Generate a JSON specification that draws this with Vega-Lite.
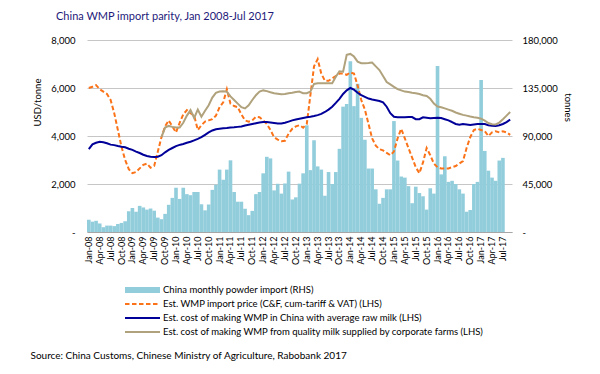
{
"$schema": "https://vega.github.io/schema/vega-lite/v6.json",
"width": 425, "height": 192,
"autosize": {"type": "none"},
"padding": {"left": 87, "top": 40, "right": 88, "bottom": 142},
"background": "white",
"config": {"view": {"stroke": null}, "font": "Lato", "axis": {"labelFont": "Lato", "titleFont": "Lato"}},
"title": {"text": "China WMP import parity, Jan 2008-Jul 2017", "anchor": "start", "frame": "group", "dx": -31, "dy": 10, "offset": 14, "baseline": "alphabetic", "fontSize": 11, "fontWeight": "normal", "color": "#1e1a7a", "font": "Lato"},
"data": {"values": [
{"m":"Jan-08","imp":11500,"wmp":6000,"avg":3450},
{"m":"Feb-08","imp":9700,"wmp":6050,"avg":3650},
{"m":"Mar-08","imp":10500,"wmp":6120,"avg":3720},
{"m":"Apr-08","imp":8000,"wmp":5950,"avg":3760},
{"m":"May-08","imp":4500,"wmp":5850,"avg":3740},
{"m":"Jun-08","imp":6000,"wmp":5750,"avg":3700},
{"m":"Jul-08","imp":6000,"wmp":5500,"avg":3640},
{"m":"Aug-08","imp":5500,"wmp":4950,"avg":3620},
{"m":"Sep-08","imp":7500,"wmp":4250,"avg":3580},
{"m":"Oct-08","imp":8500,"wmp":3550,"avg":3550},
{"m":"Nov-08","imp":10000,"wmp":3000,"avg":3530},
{"m":"Dec-08","imp":19500,"wmp":2620,"avg":3470},
{"m":"Jan-09","imp":22500,"wmp":2450,"avg":3420},
{"m":"Feb-09","imp":19000,"wmp":2500,"avg":3350},
{"m":"Mar-09","imp":24500,"wmp":2650,"avg":3290},
{"m":"Apr-09","imp":23000,"wmp":2800,"avg":3220},
{"m":"May-09","imp":21000,"wmp":2850,"avg":3170},
{"m":"Jun-09","imp":22000,"wmp":2680,"avg":3140},
{"m":"Jul-09","imp":20000,"wmp":2760,"avg":3130},
{"m":"Aug-09","imp":13500,"wmp":3350,"avg":3140},
{"m":"Sep-09","imp":12000,"wmp":3950,"avg":3200,"corp":3950},
{"m":"Oct-09","imp":17000,"wmp":4400,"avg":3320,"corp":4350},
{"m":"Nov-09","imp":25500,"wmp":4650,"avg":3420,"corp":4420},
{"m":"Dec-09","imp":32000,"wmp":4400,"avg":3500,"corp":4380},
{"m":"Jan-10","imp":41500,"wmp":4150,"avg":3580,"corp":4350},
{"m":"Feb-10","imp":31000,"wmp":4550,"avg":3630,"corp":4350},
{"m":"Mar-10","imp":41500,"wmp":4900,"avg":3670,"corp":4550},
{"m":"Apr-10","imp":35500,"wmp":5080,"avg":3720,"corp":4850},
{"m":"May-10","imp":34500,"wmp":4950,"avg":3760,"corp":5080},
{"m":"Jun-10","imp":37500,"wmp":4850,"avg":3820,"corp":4750},
{"m":"Jul-10","imp":37500,"wmp":4250,"avg":3880,"corp":5100},
{"m":"Aug-10","imp":26000,"wmp":4450,"avg":3950,"corp":4800},
{"m":"Sep-10","imp":20300,"wmp":4600,"avg":4050,"corp":5050},
{"m":"Oct-10","imp":25800,"wmp":4650,"avg":4150,"corp":5280},
{"m":"Nov-10","imp":39500,"wmp":4700,"avg":4230,"corp":5600},
{"m":"Dec-10","imp":44300,"wmp":4850,"avg":4280,"corp":5800},
{"m":"Jan-11","imp":58500,"wmp":5200,"avg":4300,"corp":5850},
{"m":"Feb-11","imp":49000,"wmp":5400,"avg":4320,"corp":5860},
{"m":"Mar-11","imp":58500,"wmp":5950,"avg":4330,"corp":5850},
{"m":"Apr-11","imp":67200,"wmp":5350,"avg":4350,"corp":5650},
{"m":"May-11","imp":37500,"wmp":5250,"avg":4360,"corp":5500},
{"m":"Jun-11","imp":28400,"wmp":5200,"avg":4380,"corp":5350},
{"m":"Jul-11","imp":28400,"wmp":4900,"avg":4400,"corp":5200},
{"m":"Aug-11","imp":21800,"wmp":4650,"avg":4440,"corp":5150},
{"m":"Sep-11","imp":15800,"wmp":4600,"avg":4470,"corp":5280},
{"m":"Oct-11","imp":19800,"wmp":4650,"avg":4500,"corp":5500},
{"m":"Nov-11","imp":35500,"wmp":4800,"avg":4530,"corp":5700},
{"m":"Dec-11","imp":37500,"wmp":4780,"avg":4560,"corp":5850},
{"m":"Jan-12","imp":55000,"wmp":4650,"avg":4580,"corp":5900},
{"m":"Feb-12","imp":70500,"wmp":4500,"avg":4580,"corp":5870},
{"m":"Mar-12","imp":69000,"wmp":4250,"avg":4560,"corp":5820},
{"m":"Apr-12","imp":39000,"wmp":3950,"avg":4540,"corp":5780},
{"m":"May-12","imp":45200,"wmp":3850,"avg":4520,"corp":5760},
{"m":"Jun-12","imp":36000,"wmp":3780,"avg":4520,"corp":5740},
{"m":"Jul-12","imp":45500,"wmp":3800,"avg":4550,"corp":5750},
{"m":"Aug-12","imp":56600,"wmp":4100,"avg":4600,"corp":5780},
{"m":"Sep-12","imp":30500,"wmp":4300,"avg":4650,"corp":5800},
{"m":"Oct-12","imp":32500,"wmp":4400,"avg":4690,"corp":5830},
{"m":"Nov-12","imp":45300,"wmp":4450,"avg":4720,"corp":5850},
{"m":"Dec-12","imp":55000,"wmp":4350,"avg":4750,"corp":5780},
{"m":"Jan-13","imp":100000,"wmp":4500,"avg":4780,"corp":5780},
{"m":"Feb-13","imp":58000,"wmp":5700,"avg":4800,"corp":5850},
{"m":"Mar-13","imp":86000,"wmp":6900,"avg":4830,"corp":6170},
{"m":"Apr-13","imp":61500,"wmp":7200,"avg":4870,"corp":6200},
{"m":"May-13","imp":58500,"wmp":6600,"avg":4920,"corp":6200},
{"m":"Jun-13","imp":34000,"wmp":6300,"avg":5000,"corp":6200},
{"m":"Jul-13","imp":56200,"wmp":6300,"avg":5100,"corp":6200},
{"m":"Aug-13","imp":45000,"wmp":6400,"avg":5220,"corp":6200},
{"m":"Sep-13","imp":56200,"wmp":6500,"avg":5380,"corp":6470},
{"m":"Oct-13","imp":78000,"wmp":6600,"avg":5550,"corp":6700},
{"m":"Nov-13","imp":117500,"wmp":6600,"avg":5750,"corp":6680},
{"m":"Dec-13","imp":120000,"wmp":6550,"avg":5900,"corp":7380},
{"m":"Jan-14","imp":160000,"wmp":6650,"avg":6000,"corp":7420},
{"m":"Feb-14","imp":118000,"wmp":6600,"avg":5930,"corp":7310},
{"m":"Mar-14","imp":139000,"wmp":6100,"avg":5800,"corp":7100},
{"m":"Apr-14","imp":107000,"wmp":5500,"avg":5700,"corp":7030},
{"m":"May-14","imp":86500,"wmp":5100,"avg":5630,"corp":7030},
{"m":"Jun-14","imp":59500,"wmp":4500,"avg":5560,"corp":7040},
{"m":"Jul-14","imp":59500,"wmp":3900,"avg":5520,"corp":7060},
{"m":"Aug-14","imp":40000,"wmp":3600,"avg":5490,"corp":6900},
{"m":"Sep-14","imp":26500,"wmp":3450,"avg":5460,"corp":6750},
{"m":"Oct-14","imp":32000,"wmp":3400,"avg":5400,"corp":6500},
{"m":"Nov-14","imp":40000,"wmp":3300,"avg":5220,"corp":6250},
{"m":"Dec-14","imp":40000,"wmp":3200,"avg":4950,"corp":6150},
{"m":"Jan-15","imp":104000,"wmp":3350,"avg":4800,"corp":6050},
{"m":"Feb-15","imp":67000,"wmp":3900,"avg":4780,"corp":5950},
{"m":"Mar-15","imp":52000,"wmp":4300,"avg":4780,"corp":5900},
{"m":"Apr-15","imp":51000,"wmp":3900,"avg":4780,"corp":5850},
{"m":"May-15","imp":43000,"wmp":3500,"avg":4790,"corp":5830},
{"m":"Jun-15","imp":27000,"wmp":3100,"avg":4790,"corp":5800},
{"m":"Jul-15","imp":42500,"wmp":2700,"avg":4700,"corp":5780},
{"m":"Aug-15","imp":36500,"wmp":2450,"avg":4700,"corp":5750},
{"m":"Sep-15","imp":33500,"wmp":2900,"avg":4780,"corp":5700},
{"m":"Oct-15","imp":21000,"wmp":3500,"avg":4760,"corp":5670},
{"m":"Nov-15","imp":41000,"wmp":3200,"avg":4740,"corp":5550},
{"m":"Dec-15","imp":36000,"wmp":2850,"avg":4750,"corp":5350},
{"m":"Jan-16","imp":155600,"wmp":2700,"avg":4760,"corp":5230},
{"m":"Feb-16","imp":54000,"wmp":2650,"avg":4750,"corp":5200},
{"m":"Mar-16","imp":71000,"wmp":2650,"avg":4700,"corp":5150},
{"m":"Apr-16","imp":47000,"wmp":2650,"avg":4650,"corp":5100},
{"m":"May-16","imp":48000,"wmp":2700,"avg":4580,"corp":5050},
{"m":"Jun-16","imp":45000,"wmp":2750,"avg":4500,"corp":4980},
{"m":"Jul-16","imp":40000,"wmp":2850,"avg":4470,"corp":4930},
{"m":"Aug-16","imp":36000,"wmp":2950,"avg":4500,"corp":4880},
{"m":"Sep-16","imp":19000,"wmp":3500,"avg":4480,"corp":4850},
{"m":"Oct-16","imp":20600,"wmp":3950,"avg":4460,"corp":4810},
{"m":"Nov-16","imp":45000,"wmp":4250,"avg":4480,"corp":4780},
{"m":"Dec-16","imp":47000,"wmp":4300,"avg":4500,"corp":4760},
{"m":"Jan-17","imp":142500,"wmp":4250,"avg":4500,"corp":4720},
{"m":"Feb-17","imp":76000,"wmp":4200,"avg":4500,"corp":4640},
{"m":"Mar-17","imp":57500,"wmp":4000,"avg":4450,"corp":4540},
{"m":"Apr-17","imp":51000,"wmp":4150,"avg":4430,"corp":4490},
{"m":"May-17","imp":48000,"wmp":4200,"avg":4420,"corp":4480},
{"m":"Jun-17","imp":67000,"wmp":4150,"avg":4450,"corp":4560},
{"m":"Jul-17","imp":69500,"wmp":4200,"avg":4500,"corp":4700},
{"m":"Aug-17","wmp":4150,"avg":4580,"corp":4850},
{"m":"Sep-17","wmp":4050,"avg":4680,"corp":5000}
]},
"encoding": {
 "x": {"field": "m", "type": "nominal", "sort": null,
  "scale": {"paddingInner": 0, "paddingOuter": 0, "domain": ["Jan-08","Feb-08","Mar-08","Apr-08","May-08","Jun-08","Jul-08","Aug-08","Sep-08","Oct-08","Nov-08","Dec-08","Jan-09","Feb-09","Mar-09","Apr-09","May-09","Jun-09","Jul-09","Aug-09","Sep-09","Oct-09","Nov-09","Dec-09","Jan-10","Feb-10","Mar-10","Apr-10","May-10","Jun-10","Jul-10","Aug-10","Sep-10","Oct-10","Nov-10","Dec-10","Jan-11","Feb-11","Mar-11","Apr-11","May-11","Jun-11","Jul-11","Aug-11","Sep-11","Oct-11","Nov-11","Dec-11","Jan-12","Feb-12","Mar-12","Apr-12","May-12","Jun-12","Jul-12","Aug-12","Sep-12","Oct-12","Nov-12","Dec-12","Jan-13","Feb-13","Mar-13","Apr-13","May-13","Jun-13","Jul-13","Aug-13","Sep-13","Oct-13","Nov-13","Dec-13","Jan-14","Feb-14","Mar-14","Apr-14","May-14","Jun-14","Jul-14","Aug-14","Sep-14","Oct-14","Nov-14","Dec-14","Jan-15","Feb-15","Mar-15","Apr-15","May-15","Jun-15","Jul-15","Aug-15","Sep-15","Oct-15","Nov-15","Dec-15","Jan-16","Feb-16","Mar-16","Apr-16","May-16","Jun-16","Jul-16","Aug-16","Sep-16","Oct-16","Nov-16","Dec-16","Jan-17","Feb-17","Mar-17","Apr-17","May-17","Jun-17","Jul-17","Aug-17","Sep-17"]},
  "axis": {"orient": "bottom", "values": ["Jan-08","Apr-08","Jul-08","Oct-08","Jan-09","Apr-09","Jul-09","Oct-09","Jan-10","Apr-10","Jul-10","Oct-10","Jan-11","Apr-11","Jul-11","Oct-11","Jan-12","Apr-12","Jul-12","Oct-12","Jan-13","Apr-13","Jul-13","Oct-13","Jan-14","Apr-14","Jul-14","Oct-14","Jan-15","Apr-15","Jul-15","Oct-15","Jan-16","Apr-16","Jul-16","Oct-16","Jan-17","Apr-17","Jul-17"],
   "labelAngle": 270, "labelFontSize": 9, "labelColor": "#000000", "labelPadding": 4, "labelOverlap": false, "ticks": false, "domain": true, "domainColor": "#a6a6a6", "grid": false,
   "title": "Source: China Customs, Chinese Ministry of Agriculture, Rabobank 2017", "titleX": -57, "titleY": 123, "titleAlign": "left", "titleAnchor": "start", "titleBaseline": "middle", "titleFontSize": 10, "titleFontWeight": "normal", "titleColor": "#000000"}}
},
"layer": [
 {"mark": {"type": "bar"},
  "encoding": {
   "y": {"field": "imp", "type": "quantitative", "scale": {"domain": [0, 180000]},
    "axis": {"orient": "right", "values": [0, 45000, 90000, 135000, 180000], "labelExpr": "datum.value == 0 ? '-' : format(datum.value, ',')", "grid": false, "domain": false, "ticks": false, "labelPadding": 10, "labelFontSize": 9.5, "labelColor": "#000000",
     "title": "tonnes", "titleAngle": 90, "titleX": 55, "titleY": 67, "titleFontSize": 9.5, "titleFontWeight": "normal", "titleColor": "#000000", "titleAlign": "center", "titleBaseline": "middle"}},
   "color": {"datum": "imp", "type": "nominal", "title": null,
    "scale": {"domain": ["imp", "wmp", "avg", "corp"], "range": ["#92cddc", "#fb7318", "#000099", "#b0a27c"]},
    "legend": {"orient": "none", "legendX": 38, "legendY": 243, "direction": "vertical", "title": null, "symbolType": "stroke", "symbolSize": 1225, "symbolStrokeWidth": 2, "labelFontSize": 9.5, "labelFont": "Lato", "labelColor": "#000000", "labelOffset": 3, "labelLimit": 500, "rowPadding": 2, "padding": 0,
     "labelExpr": "datum.label == 'imp' ? 'China monthly powder import (RHS)' : datum.label == 'wmp' ? 'Est. WMP import price (C&F, cum-tariff & VAT) (LHS)' : datum.label == 'avg' ? 'Est. cost of making WMP in China with average raw milk (LHS)' : 'Est. cost of making WMP from quality milk supplied by corporate farms (LHS)'",
     "encode": {
      "symbols": {"update": {"x": {"value": 17.5}, "y": {"value": 7}, "size": {"value": 1225},
        "shape": {"signal": "datum.value == 'imp' ? 'M-1,-0.17H1V0.17H-1Z' : 'stroke'"},
        "strokeWidth": {"signal": "datum.value == 'imp' ? 0 : 2"},
        "strokeDash": {"signal": "datum.value == 'wmp' ? [4.5, 2.5] : [100, 0]"},
        "stroke": {"signal": "datum.value == 'imp' ? 'transparent' : scale('color', datum.value)"},
        "fill": {"signal": "datum.value == 'imp' ? scale('color', datum.value) : 'transparent'"},
        "opacity": {"value": 1}}},
      "labels": {"update": {"x": {"value": 38}, "y": {"value": 7}, "baseline": {"value": "middle"}}}}}}
  }},
 {"transform": [{"fold": ["wmp", "avg", "corp"], "as": ["s", "v"]}],
  "mark": {"type": "line", "strokeWidth": 2},
  "encoding": {
   "y": {"field": "v", "type": "quantitative", "scale": {"domain": [0, 8000]},
    "axis": {"orient": "left", "values": [0, 2000, 4000, 6000, 8000], "labelExpr": "datum.value == 0 ? '-' : format(datum.value, ',')", "grid": true, "gridColor": "#c6c6c6", "domain": false, "ticks": false, "labelPadding": 12, "labelFontSize": 9.5, "labelColor": "#000000",
     "title": "USD/tonne", "titleAngle": 270, "titleX": -50, "titleY": 62, "titleFontSize": 9.5, "titleFontWeight": "normal", "titleColor": "#000000", "titleAlign": "center", "titleBaseline": "middle"}},
   "color": {"field": "s", "type": "nominal", "title": null},
   "strokeDash": {"field": "s", "type": "nominal", "scale": {"domain": ["wmp", "avg", "corp"], "range": [[4.5, 2.5], [100, 0], [100, 0]]}, "legend": null}
  }}
],
"resolve": {"scale": {"y": "independent"}}
}
